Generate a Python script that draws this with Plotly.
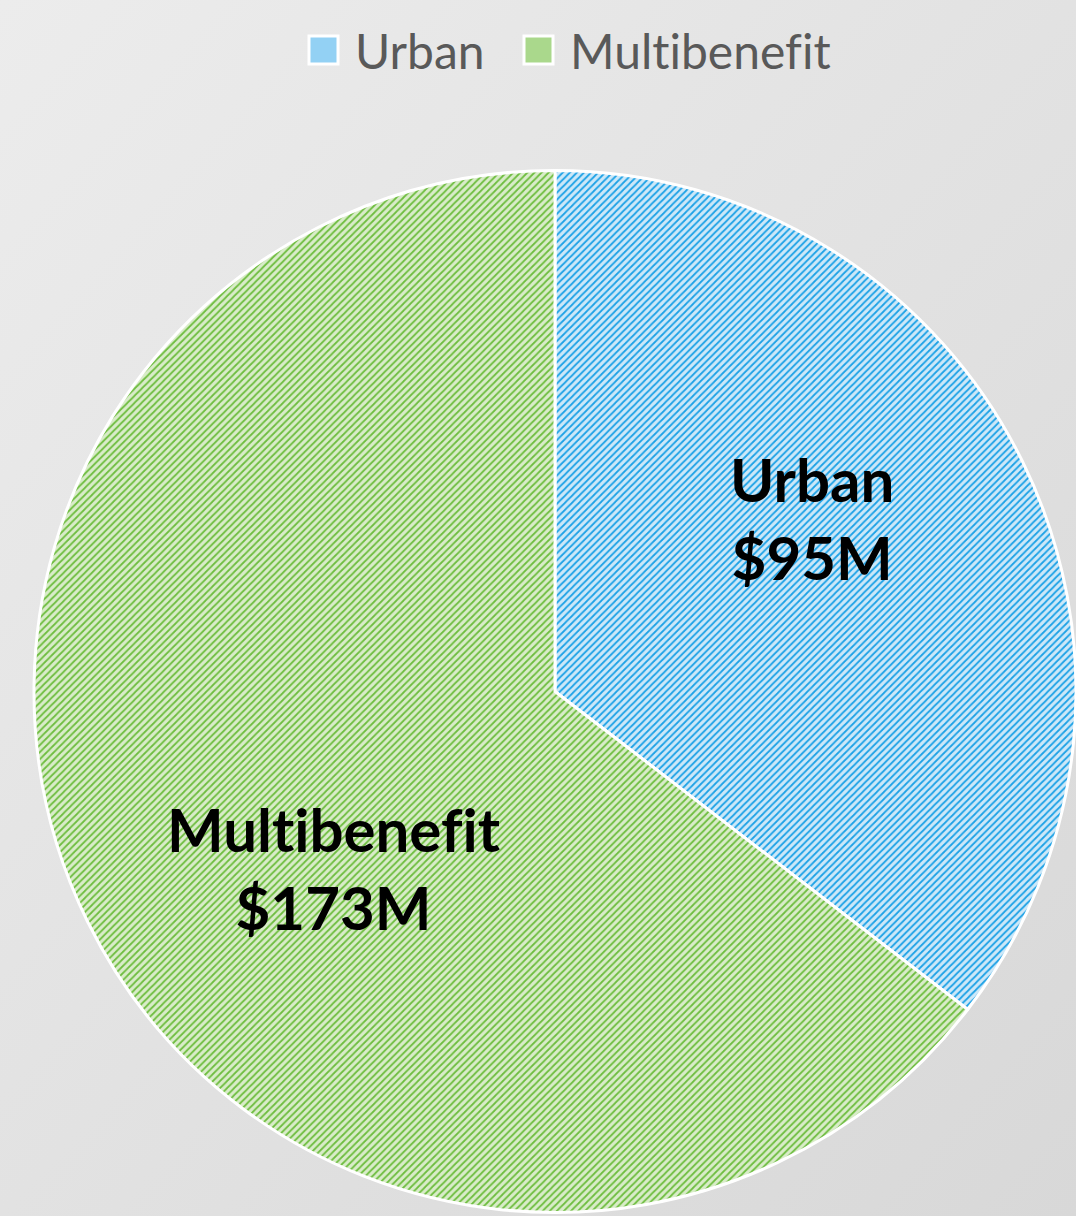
import plotly.graph_objects as go

W, H = 1076, 1216

labels = ["Urban", "Multibenefit"]
values = [95, 173]
value_text = ["$95M", "$173M"]
bg_colors = ["#cde8f8", "#d9ecc9"]
fg_colors = ["#1ba1e6", "#6dbd3e"]
legend_box_colors = ["#93d1f4", "#aad88c"]

# pie geometry (pixels)
ml, mr, mt, mb = 34, 0, 167, 0

def no_lig(s):
    return s.replace("ti", "t\u200ci").replace("fi", "f\u200ci")

fig = go.Figure()
fig.add_trace(go.Pie(
    labels=labels, values=values,
    sort=False, direction="clockwise", rotation=0,
    textinfo="none", hoverinfo="label+value",
    showlegend=False,
    marker=dict(
        colors=bg_colors,
        line=dict(color="white", width=3),
        pattern=dict(shape="/", fgcolor=fg_colors, bgcolor=bg_colors,
                     size=5, solidity=0.35, fillmode="replace"),
    ),
    domain=dict(x=[0, 1], y=[0, 1]),
))

# background gradient
svg = ("data:image/svg+xml;utf8,<svg xmlns='http://www.w3.org/2000/svg' width='1076' height='1216'>"
       "<defs><linearGradient id='g' x1='0' y1='0' x2='1' y2='1'>"
       "<stop offset='0' stop-color='%23ececec'/><stop offset='1' stop-color='%23d8d8d8'/>"
       "</linearGradient></defs><rect width='1076' height='1216' fill='url(%23g)'/></svg>")

def px(x):
    return (x - ml) / (W - ml - mr)

def py(y):
    return 1 - (y - mt) / (H - mt - mb)

annotations = []
label_pos = [(812, 518), (333, 868)]
for lab, vt, (x, y) in zip(labels, value_text, label_pos):
    annotations.append(dict(
        x=px(x), y=py(y), xref="paper", yref="paper",
        text=f"<b>{no_lig(lab)}<br>{vt}</b>", showarrow=False,
        font=dict(family="Lato", size=60, color="black"),
        xanchor="center", yanchor="middle", align="center",
    ))

# manual legend
shapes = []
leg_x = [309, 524]
leg_y = 50
for lab, c, fg, x in zip(labels, legend_box_colors, fg_colors, leg_x):
    shapes.append(dict(type="rect", xref="paper", yref="paper",
                       x0=px(x), x1=px(x + 29), y0=py(leg_y + 14), y1=py(leg_y - 14),
                       fillcolor=c, line=dict(color="white", width=3)))
    annotations.append(dict(
        x=px(x + 44), y=py(leg_y), xref="paper", yref="paper",
        text=no_lig(lab), showarrow=False, xanchor="left", yanchor="middle",
        font=dict(family="Lato", size=48, color="#595959"),
    ))

fig.update_layout(
    width=W, height=H,
    margin=dict(l=ml, r=mr, t=mt, b=mb),
    paper_bgcolor="#e4e4e4",
    plot_bgcolor="rgba(0,0,0,0)",
    annotations=annotations,
    shapes=shapes,
    images=[dict(source=svg, xref="paper", yref="paper", x=px(0), y=py(0),
                 sizex=W / (W - ml - mr), sizey=H / (H - mt - mb),
                 xanchor="left", yanchor="top", sizing="stretch", layer="below")],
)

fig.write_html("out.html", config={"displayModeBar": False},
               post_script="document.body.style.margin='0';document.body.style.overflow='hidden';")
